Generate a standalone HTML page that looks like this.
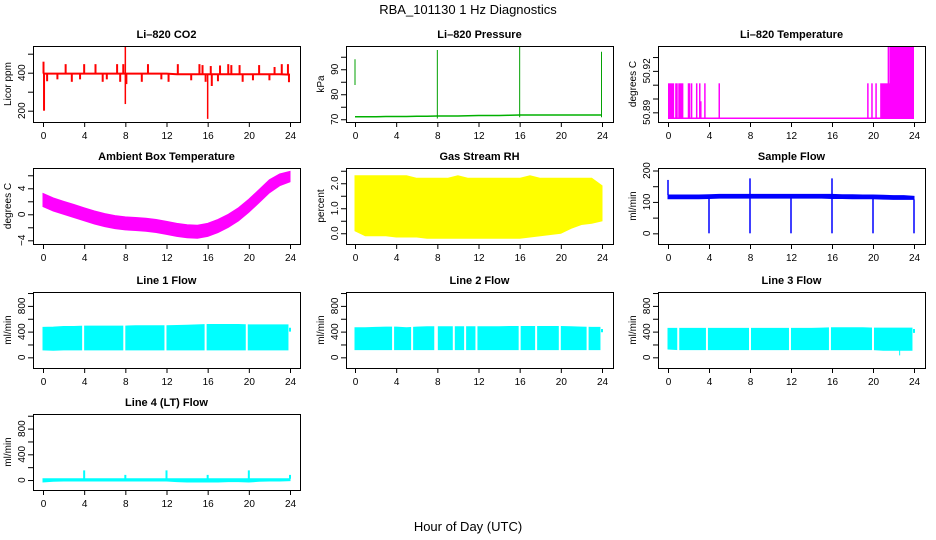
<!DOCTYPE html>
<html><head><meta charset="utf-8"><style>
html,body{margin:0;padding:0;background:#fff;}
svg{display:block;font-family:"Liberation Sans",sans-serif;}
</style></head><body>
<svg id="chart" width="936" height="540" viewBox="0 0 936 540" xmlns="http://www.w3.org/2000/svg">
<text x="468" y="14" text-anchor="middle" font-size="13">RBA_101130  1 Hz Diagnostics</text>
<text x="468" y="531" text-anchor="middle" font-size="13">Hour of Day (UTC)</text>
</svg>
<script>
// ---- data ----
const hours = [0,1,2,3,4,5,6,7,8,9,10,11,12,13,14,15,16,17,18,19,20,21,22,23,24];
const xTicks = [0,4,8,12,16,20,24];
// CO2
const co2Base = [395,395,395,395,395,395,395,395,395,395,395,395,395,392,392,392,392,392,392,392,392,392,392,392,390];
const co2UpHours = [0.05,2.2,4,5.1,7.2,7.8,10.2,13.1,15.2,15.5,16.3,17.2,18,18.3,19.1,21,22.5,23.2,23.8];
const co2UpVals = [458,445,445,445,445,445,445,445,445,440,435,438,445,440,440,440,430,445,445];
const co2DnHours = [0.1,0.4,1.4,2.8,3.6,5.8,6.2,7.5,8.1,9.6,11.5,12.2,14.4,15.8,16.4,17,19.4,20.4,22,23.9];
const co2DnVals = [200,355,365,352,365,352,365,352,340,352,365,352,360,352,330,355,352,360,360,350];
const co2BigHours = [8,8,16];
const co2BigVals = [537,235,157];
// Pressure
const presBase = [71.0,71.0,71.0,71.1,71.1,71.1,71.2,71.2,71.3,71.3,71.3,71.4,71.5,71.5,71.5,71.6,71.7,71.7,71.7,71.7,71.7,71.7,71.7,71.7,71.7];
const presSpikeHours = [0,8,16,23.95];
const presSpikeLow = [83.7,70.3,70.8,70.8];
const presSpikeHigh = [94.0,97.7,99.0,97.0];
// Li-820 temperature
const tLow = 50.8857;
const tSegStart = [0.0,0.7,1.0,20.7,21.6];
const tSegEnd = [0.6,0.95,1.5,24.0,24.0];
const tSegLevel = [50.911,50.911,50.911,50.911,50.9373];
const tLineHours = [2.0,2.1,2.3,2.8,3.1,3.2,3.6,5.0,19.5,19.9,20.3,21.5,21.9];
const tLineLevel = [50.911,50.911,50.911,50.911,50.911,50.898,50.911,50.911,50.911,50.911,50.911,50.9373,50.9373];
// Ambient box temperature
const ambCenter = [2.2,1.5,1.0,0.5,0.0,-0.5,-0.9,-1.2,-1.4,-1.5,-1.6,-1.8,-2.1,-2.4,-2.6,-2.7,-2.4,-1.8,-1.0,0.0,1.3,2.8,4.3,5.3,5.8];
const ambHalf = [1.0,1.0,1.0,1.0,1.0,1.0,1.0,1.0,1.0,1.0,1.0,1.0,1.0,1.0,1.0,1.0,1.0,1.0,1.0,1.0,1.0,1.0,1.0,0.9,0.8];
// Gas stream RH
const rhUpper = [2.3,2.3,2.3,2.3,2.3,2.3,2.2,2.2,2.2,2.2,2.3,2.2,2.2,2.2,2.2,2.2,2.2,2.3,2.2,2.2,2.2,2.2,2.2,2.2,1.9];
const rhLower = [0.1,-0.1,-0.1,-0.1,-0.15,-0.15,-0.15,-0.2,-0.2,-0.2,-0.2,-0.2,-0.2,-0.2,-0.2,-0.2,-0.2,-0.15,-0.1,-0.05,0.0,0.2,0.35,0.4,0.5];
// Sample flow
const sfUpper = [122,122,122,122,123,124,124,124,124,124,124,124,124,124,124,124,124,123,123,122,122,121,120,120,118];
const sfLower = [110,110,110,110,111,112,112,112,112,112,112,112,112,112,112,112,111,111,110,110,110,109,108,108,108];
const sfDropHours = [4,8,12,16,20,24];
const sfSpikeHours = [0,8,16];
const sfSpikeVals = [170,175,175];
// Line flows (band up to 23.8 h, then a short trace at 24 h)
const l1Upper = [465,470,480,480,485,485,485,485,485,490,490,490,490,495,500,505,510,510,510,510,505,505,505,505,505];
const l1Lower = [115,110,115,115,115,115,115,115,115,115,115,115,115,115,115,115,115,115,115,115,115,115,115,115,115];
const l1Gaps = [3.9,7.9,11.9,15.8,19.8];
const l1End = [400,460];
const l2Upper = [460,460,465,470,470,460,470,475,475,475,475,475,475,475,475,480,480,480,480,480,480,475,470,465,465];
const l2Lower = [120,120,120,120,120,120,120,120,120,120,120,120,120,120,120,120,120,120,120,120,120,120,120,120,120];
const l2Gaps = [3.7,5.55,7.8,7.95,9.6,10.7,11.8,16.0,17.6,19.9,22.6];
const l2End = [390,440];
const l3Upper = [450,450,450,450,450,450,450,450,450,450,450,450,450,450,450,455,460,460,460,460,455,455,455,455,455];
const l3Lower = [130,120,120,120,120,120,120,120,120,120,120,120,120,120,120,120,120,120,120,120,120,110,110,110,110];
const l3Gaps = [1.0,3.8,8.0,11.9,15.8,20.0];
const l3End = [380,440];
const l4Upper = [20,20,20,20,20,20,20,20,20,20,20,20,20,20,20,20,20,20,20,20,20,20,20,20,20];
const l4Lower = [-30,-20,-15,-15,-15,-15,-15,-15,-15,-15,-15,-15,-15,-25,-30,-30,-30,-30,-25,-25,-30,-20,-15,-15,-10];
const l4SpikeHours = [4,8,12,16,20,24];
const l4SpikeVals = [150,80,150,80,150,80];

// ---- layout ----
const NS = "http://www.w3.org/2000/svg";
const svg = document.getElementById('chart');
const boxL = [33,346,658], boxR = [300,613,925];
const x0 = [43,355,668], x24 = [290,602,914];
const rowTop = [46,168,292,414], H = 76;

function mk(tag, attrs, parent) {
  const e = document.createElementNS(NS, tag);
  for (const k in attrs) e.setAttribute(k, attrs[k]);
  (parent || svg).appendChild(e);
  return e;
}

const panels = [
 {id:'co2',r:0,c:0,title:'Li\u2013820 CO2',ylab:'Licor ppm',ymin:140.5,ymax:540.5,ticks:[200,300,400,500],labs:['200','','400','']},
 {id:'pressure',r:0,c:1,title:'Li\u2013820 Pressure',ylab:'kPa',ymin:68.9,ymax:99.3,ticks:[70,75,80,85,90,95],labs:['70','','80','','90','']},
 {id:'li-temp',r:0,c:2,title:'Li\u2013820 Temperature',ylab:'degrees C',ymin:50.883,ymax:50.938,ticks:[50.88,50.89,50.9,50.91,50.92,50.93],labs:['','50.89','','','50.92','']},
 {id:'ambient',r:1,c:0,title:'Ambient Box Temperature',ylab:'degrees C',ymin:-4.57,ymax:7.12,ticks:[-4,-2,0,2,4,6],labs:['\u22124','','0','','4','']},
 {id:'rh',r:1,c:1,title:'Gas Stream RH',ylab:'percent',ymin:-0.43,ymax:2.61,ticks:[0,0.5,1,1.5,2,2.5],labs:['0.0','','1.0','','2.0','']},
 {id:'sample-flow',r:1,c:2,title:'Sample Flow',ylab:'ml/min',ymin:-34,ymax:208,ticks:[0,50,100,150,200],labs:['0','','100','','200']},
 {id:'line1',r:2,c:0,title:'Line 1 Flow',ylab:'ml/min',ymin:-166,ymax:1016,ticks:[0,200,400,600,800,1000],labs:['0','','400','','800','']},
 {id:'line2',r:2,c:1,title:'Line 2 Flow',ylab:'ml/min',ymin:-166,ymax:1016,ticks:[0,200,400,600,800,1000],labs:['0','','400','','800','']},
 {id:'line3',r:2,c:2,title:'Line 3 Flow',ylab:'ml/min',ymin:-166,ymax:1016,ticks:[0,200,400,600,800,1000],labs:['0','','400','','800','']},
 {id:'line4',r:3,c:0,title:'Line 4 (LT) Flow',ylab:'ml/min',ymin:-155,ymax:1027,ticks:[0,200,400,600,800,1000],labs:['0','','400','','800','']}
];

function axes(p) {
  const T = rowTop[p.r], B = T + H, L = boxL[p.c], R = boxR[p.c];
  const X = h => x0[p.c] + h * (x24[p.c] - x0[p.c]) / 24;
  const Y = v => B - (v - p.ymin) / (p.ymax - p.ymin) * H;
  return {T,B,L,R,X,Y};
}

function band(g, a, up, lo, color) {
  let d = '';
  hours.forEach((h,i)=>{ d += (i?'L':'M') + a.X(h).toFixed(1) + ' ' + a.Y(up[i]).toFixed(1); });
  for (let i = hours.length-1; i >= 0; i--) d += 'L' + a.X(hours[i]).toFixed(1) + ' ' + a.Y(lo[i]).toFixed(1);
  const e = mk('path', {d: d+'Z', fill: color, stroke: color, 'stroke-width': 1}, g);
  
  
}
function vline(g, a, h, v1, v2, color, w) {
  const e = mk('line', {x1:a.X(h), x2:a.X(h), y1:a.Y(v1), y2:a.Y(v2), stroke:color, 'stroke-width': w||1}, g);
  
  
}
function gap(g, a, h) {
  const e = mk('rect', {x:a.X(h)-1, y:a.T+1, width:2, height:H-2, fill:'#fff'}, g);
  
  
}
function endPiece(g, a, range) {
  const e = mk('rect', {x:a.X(23.85), y:a.T+1, width:a.X(24)-a.X(23.85)+3, height:H-2, fill:'#fff'}, g);
  
  
  vline(g, a, 24, range[0], range[1], '#0ff', 2);
}
function baseline(g, a, vals, color, w) {
  const pts = hours.map((h,i)=>a.X(h).toFixed(1)+','+a.Y(vals[i]).toFixed(1)).join(' ');
  const e = mk('polyline', {points:pts, fill:'none', stroke:color, 'stroke-width':w||2}, g);
  
  
}

panels.forEach(p => {
  const a = axes(p);
  const g = mk('g', {});
  
  
  const dg = mk('g', {}, g);
  
  

  if (p.id === 'co2') {
    baseline(dg, a, co2Base, '#f00', 2);
    co2UpHours.forEach((h,i)=>vline(dg, a, h, co2Base[Math.round(h)], co2UpVals[i], '#f00', 2));
    co2DnHours.forEach((h,i)=>vline(dg, a, h, co2Base[Math.round(h)], co2DnVals[i], '#f00', 2));
    co2BigHours.forEach((h,i)=>vline(dg, a, h, co2Base[h], co2BigVals[i], '#f00', 1.5));
  } else if (p.id === 'pressure') {
    baseline(dg, a, presBase, '#00b000', 1.5);
    presSpikeHours.forEach((h,i)=>vline(dg, a, h, presSpikeLow[i], presSpikeHigh[i], '#00a000', 1));
  } else if (p.id === 'li-temp') {
    const e = mk('line', {x1:a.X(0), x2:a.X(24), y1:a.Y(tLow), y2:a.Y(tLow), stroke:'#f0f', 'stroke-width':1.5}, dg);
    
    
    tSegStart.forEach((s,i)=>{
      const r = mk('rect', {x:a.X(s), y:a.Y(tSegLevel[i]), width:a.X(tSegEnd[i])-a.X(s), height:a.Y(tLow)-a.Y(tSegLevel[i]), fill:'#f0f'}, dg);
      
      
    });
    tLineHours.forEach((h,i)=>vline(dg, a, h, tLow, tLineLevel[i], '#f0f', 1.5));
  } else if (p.id === 'ambient') {
    band(dg, a, ambCenter.map((v,i)=>v+ambHalf[i]), ambCenter.map((v,i)=>v-ambHalf[i]), '#f0f');
  } else if (p.id === 'rh') {
    band(dg, a, rhUpper, rhLower, '#ff0');
  } else if (p.id === 'sample-flow') {
    band(dg, a, sfUpper, sfLower, '#00f');
    sfDropHours.forEach(h=>vline(dg, a, h, sfLower[h], 0, '#00f', 1.5));
    sfSpikeHours.forEach((h,i)=>vline(dg, a, h, sfUpper[h], sfSpikeVals[i], '#00f', 1.5));
  } else if (p.id === 'line1') {
    band(dg, a, l1Upper, l1Lower, '#0ff'); l1Gaps.forEach(h=>gap(dg, a, h)); endPiece(dg, a, l1End);
  } else if (p.id === 'line2') {
    band(dg, a, l2Upper, l2Lower, '#0ff'); l2Gaps.forEach(h=>gap(dg, a, h)); endPiece(dg, a, l2End);
  } else if (p.id === 'line3') {
    band(dg, a, l3Upper, l3Lower, '#0ff'); l3Gaps.forEach(h=>gap(dg, a, h)); endPiece(dg, a, l3End);
    vline(dg, a, 22.6, 110, 30, '#0ff', 1);
  } else if (p.id === 'line4') {
    band(dg, a, l4Upper, l4Lower, '#0ff');
    l4SpikeHours.forEach((h,i)=>vline(dg, a, h, l4Upper[h], l4SpikeVals[i], '#0ff', 2));
  }

  const box = mk('rect', {x:a.L+0.5, y:a.T+0.5, width:a.R-a.L, height:H, fill:'none', stroke:'#000', 'stroke-width':1}, g);
  
  
  const t = mk('text', {x:(a.L+a.R)/2, y:a.T-8, 'text-anchor':'middle', 'font-size':11, 'font-weight':'bold'}, g);
  t.textContent = p.title;
  
  
  const yl = mk('text', {x:0, y:0, 'text-anchor':'middle', 'font-size':10, transform:`translate(${a.L-22},${(a.T+a.B)/2}) rotate(-90)`}, g);
  yl.textContent = p.ylab;
  
  
  const xa = mk('g', {}, g);
  
  
  mk('line', {x1:a.X(0), x2:a.X(24), y1:a.B+0.5, y2:a.B+0.5, stroke:'#000'}, xa);
  xTicks.forEach(h=>{
    mk('line', {x1:a.X(h)+0.5, x2:a.X(h)+0.5, y1:a.B, y2:a.B+5, stroke:'#000'}, xa);
    const tl = mk('text', {x:a.X(h)+0.5, y:a.B+17, 'text-anchor':'middle', 'font-size':10}, xa);
    tl.textContent = h;
    
    
  });
  const ya = mk('g', {}, g);
  
  
  p.ticks.forEach((v,i)=>{
    const y = a.Y(v);
    if (y < a.T-1 || y > a.B+1) return;
    mk('line', {x1:a.L-5, x2:a.L, y1:y+0.5, y2:y+0.5, stroke:'#000'}, ya);
    if (p.labs[i]) {
      const tl = mk('text', {x:0, y:0, 'text-anchor':'middle', 'font-size':10, transform:`translate(${a.L-8},${y}) rotate(-90)`}, ya);
      tl.textContent = p.labs[i];
      
      
    }
  });
});
</script>
</body></html>
